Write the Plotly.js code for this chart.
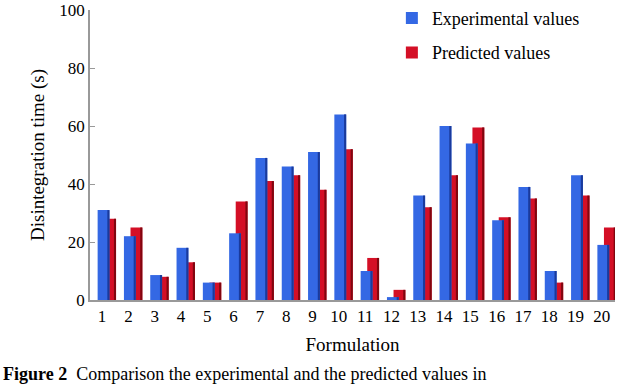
<!DOCTYPE html>
<html>
<head>
<meta charset="utf-8">
<script src="https://cdn.plot.ly/plotly-3.0.1.min.js"></script>
<style>
html, body { margin: 0; padding: 0; background: #fff; }
#grafico { width: 640px; height: 385px; }
</style>
</head>
<body>
<div id="grafico"></div>
<script>
// Formulation numbers and disintegration times (s)
let formulacao = [1, 2, 3, 4, 5, 6, 7, 8, 9, 10, 11, 12, 13, 14, 15, 16, 17, 18, 19, 20]
let experimental = [31, 22, 8.6, 18, 6, 23, 49, 46, 51, 64, 10, 1, 36, 60, 54, 27.5, 39, 10, 43, 19]
let predito = [28, 25, 8, 13, 6, 34, 41, 43, 38, 52, 14.5, 3.5, 32, 43, 59.5, 28.5, 35, 6, 36, 25]

let azul = '#3468e4'
let azulEsc = '#1a3a9c'
let verm = '#d40f26'
let vermEsc = '#80060f'

let fonte = 'Liberation Serif'

// red bars sit behind the blue ones, shifted a little to the right
let bar_pred = {
    x: formulacao, y: predito, type: 'bar', name: 'Predicted values',
    marker: {color: verm}, offset: 0.08, width: 0.45,
    legendrank: 2, legendgroup: 'b', hoverinfo: 'y'
}
let lado_pred = {
    x: formulacao, y: predito, type: 'bar', showlegend: false,
    marker: {color: vermEsc}, offset: 0.45, width: 0.08, hoverinfo: 'skip'
}
let bar_exp = {
    x: formulacao, y: experimental, type: 'bar', name: 'Experimental values',
    marker: {color: azul}, offset: -0.17, width: 0.45,
    legendrank: 1, legendgroup: 'a', hoverinfo: 'y'
}
let lado_exp = {
    x: formulacao, y: experimental, type: 'bar', showlegend: false,
    marker: {color: azulEsc}, offset: 0.2, width: 0.08, hoverinfo: 'skip'
}

let layout = {
    width: 640, height: 385,
    margin: {l: 90, r: 25, t: 10, b: 85, autoexpand: false},
    paper_bgcolor: '#fff', plot_bgcolor: '#fff',
    barmode: 'overlay',
    font: {family: fonte, size: 17, color: '#000'},
    xaxis: {
        range: [0.54, 20.5], tickvals: formulacao, ticktext: formulacao.map(String),
        showline: true, linecolor: '#999', linewidth: 2, ticks: '', showgrid: false,
        zeroline: false, tickfont: {family: fonte, size: 17, color: '#000'},
        title: {text: 'Formulation', font: {family: fonte, size: 19}, standoff: 12}
    },
    yaxis: {
        range: [0, 100], dtick: 20, showline: true, linecolor: '#999', linewidth: 1.5,
        ticks: 'inside', ticklen: 5, tickcolor: '#999', showgrid: false, zeroline: false,
        tickfont: {family: fonte, size: 17, color: '#000'},
        title: {text: 'Disintegration time (s)', font: {family: fonte, size: 19}, standoff: 10}
    },
    legend: {
        x: 0.575, y: 1.035, xanchor: 'left', yanchor: 'top', bgcolor: 'rgba(0,0,0,0)',
        font: {family: fonte, size: 18}, traceorder: 'grouped', tracegroupgap: 8
    },
    annotations: [{
        xref: 'paper', yref: 'paper', x: -0.17, y: -0.215, xanchor: 'left', yanchor: 'top',
        showarrow: false, align: 'left', font: {size: 18, family: fonte},
        text: '<b>Figure 2</b>  Comparison the experimental and the predicted values in'
    }]
}

Plotly.newPlot('grafico', [bar_pred, lado_pred, bar_exp, lado_exp], layout, {displayModeBar: false})
</script>
</body>
</html>
